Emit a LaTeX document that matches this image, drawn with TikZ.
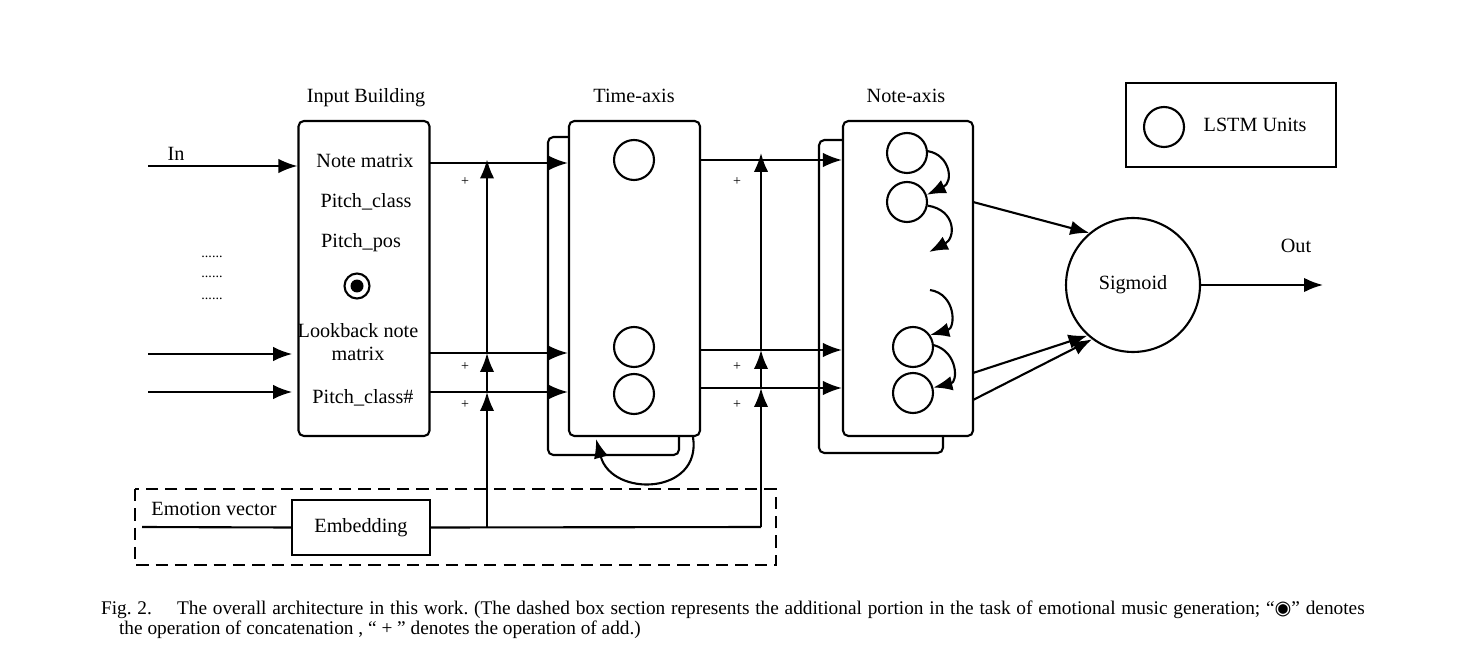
\documentclass[tikz,border=0pt]{standalone}
\usepackage{fontspec}
\setmainfont{Liberation Serif}
\newfontfamily\symfont{DejaVu Sans}
\usepackage{tikz}
\usetikzlibrary{arrows.meta,positioning}
\usetikzlibrary{calc}
\frenchspacing

\begin{document}
\begin{tikzpicture}[x=0.02cm,y=-0.02cm,line width=1.2pt,
font=\fontsize{11.5}{13}\selectfont,
arr/.style={-{Latex[length=3.8mm,width=2.9mm]}},
block/.style={rectangle,draw,rounded corners=3pt,fill=white,
minimum width=2.62cm,minimum height=6.3cm},
back/.style={rectangle,draw,rounded corners=3pt,
minimum width=2.62cm,minimum height=6.36cm},
lstm/.style={circle,draw,minimum size=0.8cm,inner sep=0pt},
title/.style={anchor=base},
plus/.style={font=\fontsize{8}{9}\selectfont},
dots/.style={font=\fontsize{8}{9}\selectfont},
]
\useasboundingbox (0,0) rectangle (1462,648);
% input building
\node (inb) [block] at (364,278.5) {};
\node (inbt) [title] at (366,103) {Input Building};
\node (nm) at (365,161) {Note matrix};
\node (pc) at (366,202) {Pitch\_class};
\node (pp) at (361,243) {Pitch\_pos};
\node (cat) [circle,draw,minimum size=0.5cm,inner sep=0pt] at (357,286) {};
\fill (cat) circle (0.13cm);
\node (lb) [align=center] at (358,342) {Lookback note\\matrix};
\node (pch) at (363,398) {Pitch\_class\#};
\coordinate (in1) at (148,166);
\coordinate (in2) at (148,354);
\coordinate (in3) at (148,392);
\node (inl) at (176,154) {In};
\foreach \py [count=\i] in {257,277,299}
  \node (dots\i) [dots] at (212,\py) {......};
\draw[arr] (in1) -- (in1 -| inb.west);
\draw[arr] (in2) -- ([xshift=-3]in2 -| inb.west);
\draw[arr] (in3) -- ([xshift=-3]in3 -| inb.west);

% time axis
\node (tb) [back] at (613.5,296) {};
\node (tf) [block,minimum width=2.62cm] at (634.5,278.5) {};
\node (tft) [title] at (634,103) {Time-axis};
\node (t1) [lstm] at (634,160) {};
\node (t2) [lstm] at (634,347) {};
\node (t3) [lstm] at (634,394) {};
\coordinate (o1) at (430,163);
\coordinate (o2) at (430,353);
\coordinate (o3) at (430,392);
\draw[arr] (o1) -- (o1 -| tf.west);
\draw[arr] (o2) -- (o2 -| tf.west);
\draw[arr] (o3) -- (o3 -| tf.west);
\coordinate (lp1) at (693,437);
\coordinate (lp2) at (596,439);
\draw[arr] (lp1) .. controls (702,495) and (612,498) .. (lp2);

% note axis
\node (nb) [back,minimum width=2.48cm,minimum height=6.26cm] at (881,296.5) {};
\node (nf) [block,minimum width=2.6cm] at (908,278.5) {};
\node (nft) [title] at (906,103) {Note-axis};
\node (n1) [lstm] at (907,153) {};
\node (n2) [lstm] at (907,202) {};
\node (n3) [lstm] at (913,347) {};
\node (n4) [lstm] at (913,393) {};
\coordinate (nd1) at (929,252);
\coordinate (nd2) at (930,290);
\draw[arr] (n1.5) .. controls (950,155) and (954,182) .. (n2.20);
\draw[arr] (n2.-10) .. controls (956,210) and (956,238) .. (nd1);
\draw[arr] (nd2) .. controls (956,294) and (956,328) .. (n3.35);
\draw[arr] (n3.5) .. controls (958,352) and (958,382) .. (n4.15);
\coordinate (p1) at (700,160);
\coordinate (p2) at (700,350);
\coordinate (p3) at (700,388);
\draw[arr] (p1) -- (p1 -| nf.west);
\draw[arr] (p2) -- (p2 -| nf.west);
\draw[arr] (p3) -- (p3 -| nf.west);

% sigmoid
\node (sg) [circle,draw,minimum size=2.68cm] at (1133,285) {Sigmoid};
\coordinate (q1) at (973,202);
\coordinate (q2) at (973,373);
\coordinate (q3) at (973,400);
\draw[arr] (q1) -- (sg.130);
\draw[arr] (q2) -- (sg.228);
\draw[arr] (q3) -- (sg.233);
\coordinate (out) at (1323,285);
\draw[arr] (sg.east) -- (out);
\node (outl) at (1296,246) {Out};

% legend
\node (lg) [rectangle,draw,minimum width=4.2cm,minimum height=1.68cm] at (1231,125) {};
\node (lc) [lstm] at (1164,127) {};
\node (lt) at (1255,125) {LSTM Units};

% emotion part
\draw[dashed,dash pattern=on 7pt off 4pt] (135,489) rectangle (776,565);
\node (evl) at (214,509) {Emotion vector};
\node (emb) [rectangle,draw,minimum width=2.76cm,minimum height=1.1cm] at (361,527.5) {Embedding};
\coordinate (ev) at (142,527);
\coordinate (j1) at (487,527);
\coordinate (j2) at (761,527);
\draw (ev) -- (emb.west);
\draw (emb.east) -- (j2);
\draw[arr] (j1) -- (j1 |- o3);
\draw[arr] (j1 |- o3) -- (j1 |- o2);
\draw[arr] (j1 |- o2) -- ([yshift=2]j1 |- o1);
\draw[arr] (j2) -- (j2 |- p3);
\draw[arr] (j2 |- p3) -- (j2 |- p2);
\draw[arr] (j2 |- p2) -- ([yshift=4]j2 |- p1);
\foreach \px in {465,737}
  \foreach \py in {182,367,405}
    \node (plus-\px-\py) [plus] at (\px,\py) {+};

% caption
\node (cap1) [anchor=base west,inner sep=0pt,font=\fontsize{11}{12}\selectfont] at (100,614)
  {\makebox[25.28cm][s]{Fig.\hspace{0.3em}2.\hspace{1.3em}The overall architecture in this work. (The dashed box section represents the additional portion in the task of emotional music generation; “{\symfont ◉}” denotes}};
\node (cap2) [anchor=base west,inner sep=0pt,font=\fontsize{11}{12}\selectfont] at (118,634)
  {the operation of concatenation , “ + ” denotes the operation of add.)};
\end{tikzpicture}
\end{document}
